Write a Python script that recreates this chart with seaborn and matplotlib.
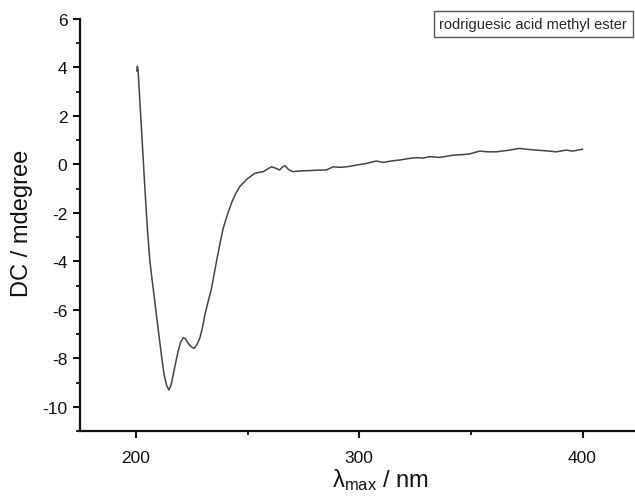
import matplotlib
matplotlib.use("Agg")
import matplotlib.pyplot as plt
from matplotlib.ticker import MultipleLocator
import seaborn as sns
import pandas as pd

# ---- data ----
wavelength_nm = [200.4, 200.7, 201.0, 202.5, 204.0, 205.2, 206.3, 207.4, 208.5, 209.6,
                 210.7, 211.7, 212.7, 213.8, 214.8, 215.8, 216.7, 217.8, 218.9, 220.0,
                 221.2, 222.3, 223.4, 224.8, 226.1, 227.3, 228.6, 229.8, 230.9, 232.4,
                 233.9, 235.0, 236.1, 237.6, 239.1, 240.9, 242.8, 244.6, 246.5, 249.8,
                 253.2, 255.1, 257.0, 258.8, 260.7, 262.5, 264.4, 265.5, 266.7, 268.5,
                 270.4, 273.4, 276.4, 280.9, 285.3, 288.3, 291.3, 294.3, 298.7, 303.2,
                 307.7, 310.6, 314.3, 318.1, 322.6, 325.6, 328.5, 331.5, 336.0, 342.0,
                 345.7, 349.4, 353.9, 357.6, 361.4, 366.6, 371.8, 375.5, 379.3, 383.7,
                 388.2, 392.7, 395.7, 400.1]
cd_mdeg = [3.85, 4.05, 3.90, 1.5, -0.9, -2.7, -4.0, -4.85, -5.66, -6.5,
           -7.31, -8.05, -8.69, -9.12, -9.31, -9.1, -8.69, -8.2, -7.72, -7.35,
           -7.15, -7.2, -7.38, -7.52, -7.59, -7.45, -7.18, -6.75, -6.21, -5.65,
           -5.11, -4.55, -4.01, -3.3, -2.64, -2.1, -1.6, -1.22, -0.92, -0.6,
           -0.37, -0.33, -0.30, -0.2, -0.10, -0.15, -0.23, -0.12, -0.05, -0.22,
           -0.30, -0.27, -0.26, -0.24, -0.23, -0.10, -0.12, -0.10, -0.03, 0.04,
           0.14, 0.08, 0.14, 0.18, 0.25, 0.28, 0.26, 0.32, 0.29, 0.38,
           0.40, 0.43, 0.55, 0.52, 0.52, 0.58, 0.66, 0.62, 0.59, 0.56,
           0.52, 0.59, 0.55, 0.63]
series_name = "rodriguesic acid methyl ester"
x_ticks = [200, 300, 400]
y_ticks = [-10, -8, -6, -4, -2, 0, 2, 4, 6]

df = pd.DataFrame({"wl": wavelength_nm, "cd": cd_mdeg, "sample": series_name})

sns.set_theme(style="ticks")
plt.rcParams["font.family"] = ["Liberation Sans", "DejaVu Sans"]
plt.rcParams["mathtext.fontset"] = "custom"
plt.rcParams["mathtext.rm"] = "Liberation Sans"
plt.rcParams["axes.unicode_minus"] = False

fig = plt.figure(figsize=(6.35, 5.02), dpi=100)
ax = fig.add_axes([80 / 635, 70 / 502, 555 / 635, 412 / 502])

sns.lineplot(data=df, x="wl", y="cd", hue="sample", palette=["#444444"],
             linewidth=1.1, ax=ax, sort=False)

ax.set_xlim(175, 423.5)
ax.set_ylim(-11, 6)
ax.set_xticks(x_ticks)
ax.set_yticks(y_ticks)
ax.xaxis.set_minor_locator(MultipleLocator(50))
ax.yaxis.set_minor_locator(MultipleLocator(1))

for s in ["top", "right"]:
    ax.spines[s].set_visible(False)
for s in ["left", "bottom"]:
    ax.spines[s].set_linewidth(1.6)
    ax.spines[s].set_color("#111111")

ax.tick_params(axis="both", which="major", direction="out", length=5, width=1.5,
               labelsize=12.5, colors="#111111")
ax.tick_params(axis="x", which="major", pad=9)
ax.tick_params(axis="y", which="major", pad=4)
ax.tick_params(axis="both", which="minor", direction="out", length=3, width=1.3,
               colors="#111111")

ax.set_xlabel(r"$\mathregular{\lambda_{max}}$ / nm", fontsize=17, color="#111111")
ax.set_ylabel("DC / mdegree", fontsize=17, color="#111111")
ax.xaxis.set_label_coords((380 - 80) / 555, -35 / 412)
ax.yaxis.set_label_coords(-47 / 555, (432 - 223) / 412)

leg = ax.legend(loc="upper right", bbox_to_anchor=(633 / 635, 1 - 12 / 502),
                bbox_transform=fig.transFigure, handlelength=0, handletextpad=0,
                fontsize=10.5, frameon=True, fancybox=False, borderpad=0.4,
                borderaxespad=0)
for h in leg.legend_handles:
    h.set_visible(False)
leg.get_frame().set_edgecolor("#555555")
leg.get_frame().set_linewidth(1.0)
leg.get_frame().set_alpha(1)

fig.savefig("out.png", dpi=100)
